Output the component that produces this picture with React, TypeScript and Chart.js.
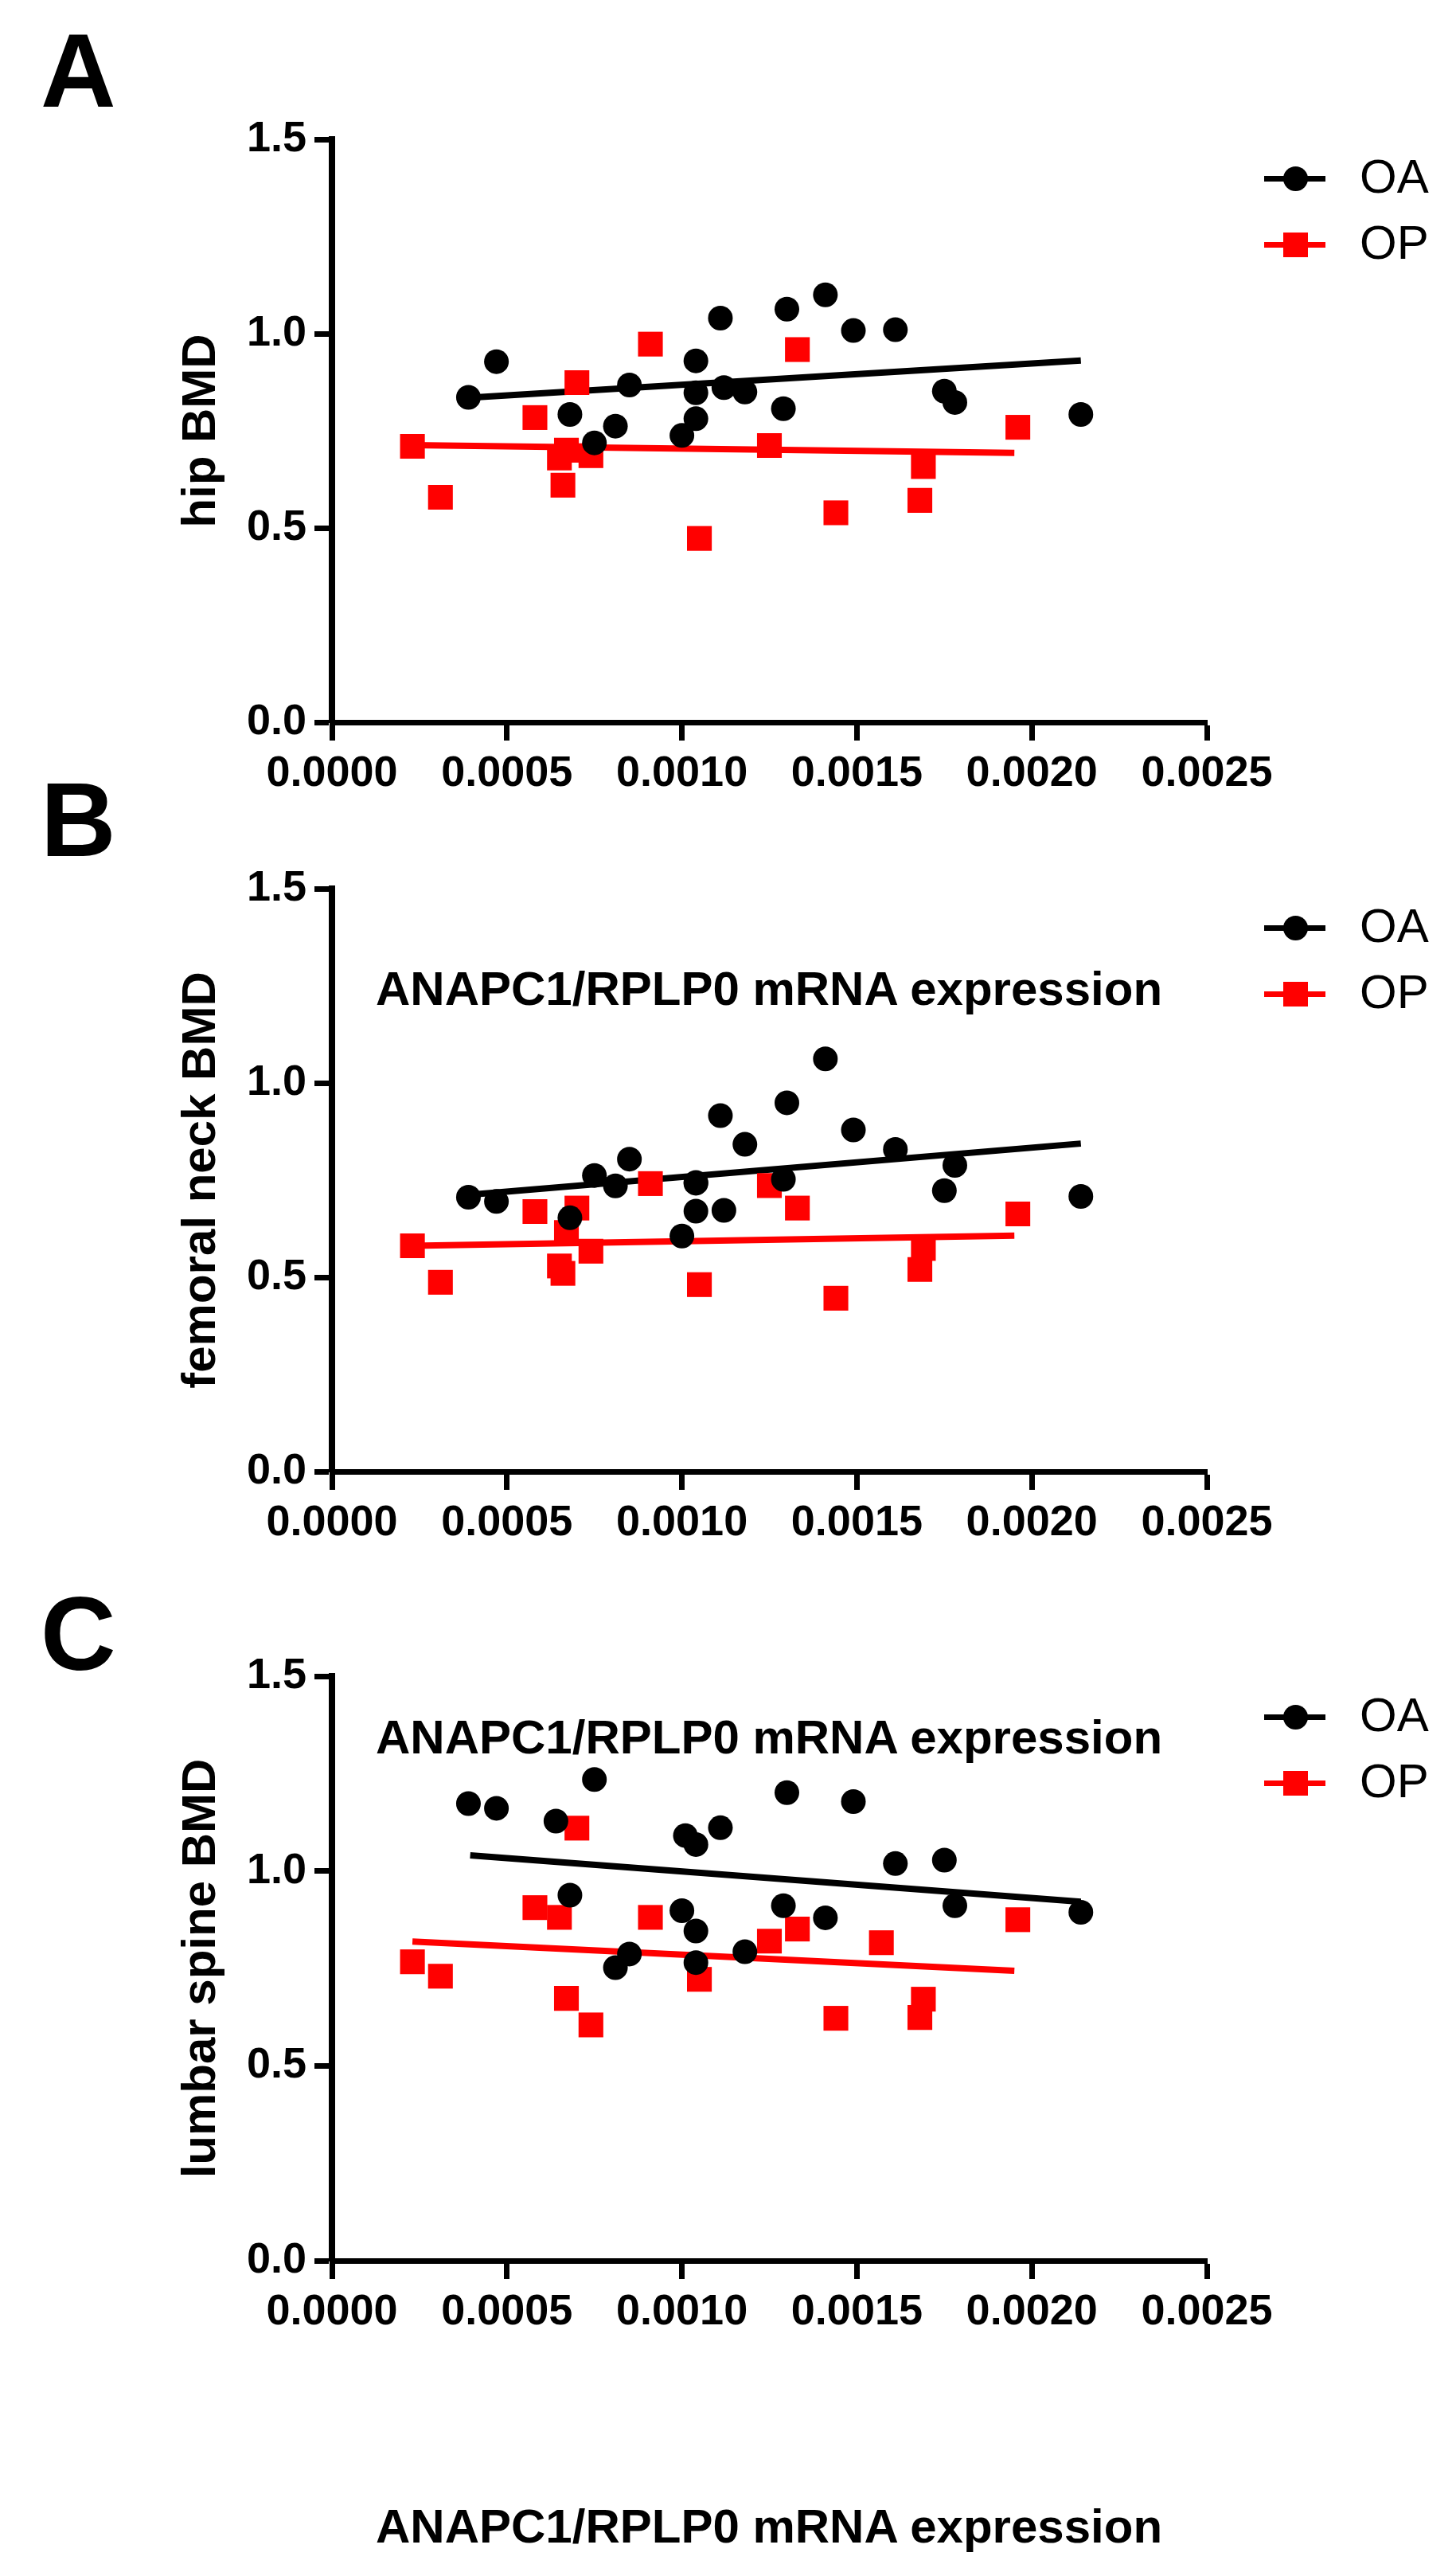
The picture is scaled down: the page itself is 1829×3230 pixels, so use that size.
import { useEffect, useRef } from "react"
import { Chart, registerables } from "chart.js"

Chart.register(...registerables)

const FONT = "'Liberation Sans', Arial, Helvetica, sans-serif"

// shared axes
const xTicks = [0, 0.0005, 0.001, 0.0015, 0.002, 0.0025]
const yTicks = [0, 0.5, 1.0, 1.5]
const xTitle = "ANAPC1/RPLP0 mRNA expression"
const seriesNames = ["OA", "OP"]

// A - hip BMD
const hipOAx = [0.00039, 0.00047, 0.00068, 0.00075, 0.00081, 0.00085, 0.00104, 0.00104, 0.00104, 0.001, 0.00111, 0.00112, 0.00118, 0.0013, 0.00141, 0.00149, 0.00161, 0.00129, 0.00175, 0.00178, 0.00214]
const hipOAy = [0.836, 0.928, 0.792, 0.719, 0.762, 0.868, 0.93, 0.848, 0.781, 0.738, 1.04, 0.861, 0.85, 1.063, 1.1, 1.008, 1.01, 0.807, 0.852, 0.823, 0.792]
const hipOPx = [0.00023, 0.00031, 0.00058, 0.0007, 0.00067, 0.00065, 0.00074, 0.00066, 0.00091, 0.00105, 0.00125, 0.00133, 0.00144, 0.00169, 0.00168, 0.00196]
const hipOPy = [0.71, 0.579, 0.784, 0.874, 0.7, 0.68, 0.686, 0.61, 0.973, 0.473, 0.712, 0.959, 0.539, 0.658, 0.571, 0.759]
const hipOAfitX = [0.00039, 0.00214]
const hipOAfitY = [0.835, 0.931]
const hipOPfitX = [0.00023, 0.00195]
const hipOPfitY = [0.713, 0.693]

// B - femoral neck BMD
const neckOAx = [0.00039, 0.00047, 0.00068, 0.00075, 0.00081, 0.00085, 0.00104, 0.00104, 0.00104, 0.001, 0.00111, 0.00112, 0.00118, 0.0013, 0.00129, 0.00141, 0.00149, 0.00161, 0.00178, 0.00175, 0.00214]
const neckOAy = [0.706, 0.695, 0.653, 0.762, 0.735, 0.804, 0.744, 0.67, 0.742, 0.606, 0.916, 0.672, 0.842, 0.949, 0.752, 1.062, 0.879, 0.829, 0.788, 0.723, 0.708]
const neckOPx = [0.00023, 0.00031, 0.00058, 0.0007, 0.00067, 0.00065, 0.00066, 0.00074, 0.00091, 0.00105, 0.00125, 0.00133, 0.00144, 0.00169, 0.00168, 0.00196]
const neckOPy = [0.581, 0.487, 0.669, 0.678, 0.615, 0.529, 0.51, 0.567, 0.741, 0.481, 0.736, 0.678, 0.446, 0.574, 0.52, 0.663]
const neckOAfitX = [0.00039, 0.00214]
const neckOAfitY = [0.712, 0.844]
const neckOPfitX = [0.00023, 0.00195]
const neckOPfitY = [0.581, 0.607]

// C - lumbar spine BMD
const spineOAx = [0.00039, 0.00047, 0.00064, 0.00075, 0.00068, 0.00081, 0.00085, 0.00101, 0.00104, 0.00111, 0.001, 0.00104, 0.00104, 0.00118, 0.0013, 0.00129, 0.00149, 0.00161, 0.00175, 0.00141, 0.00178, 0.00214]
const spineOAy = [1.173, 1.161, 1.128, 1.235, 0.938, 0.752, 0.787, 1.091, 1.068, 1.111, 0.898, 0.846, 0.765, 0.793, 1.201, 0.911, 1.178, 1.019, 1.028, 0.88, 0.911, 0.894]
const spineOPx = [0.00023, 0.00031, 0.00058, 0.0007, 0.00065, 0.00067, 0.00074, 0.00091, 0.00105, 0.00125, 0.00133, 0.00157, 0.00144, 0.00169, 0.00168, 0.00196]
const spineOPy = [0.767, 0.73, 0.906, 1.11, 0.881, 0.673, 0.605, 0.881, 0.722, 0.82, 0.851, 0.816, 0.622, 0.671, 0.624, 0.875]
const spineOAfitX = [0.000395, 0.00214]
const spineOAfitY = [1.04, 0.921]
const spineOPfitX = [0.00023, 0.00195]
const spineOPfitY = [0.819, 0.744]

const pts = (xs: number[], ys: number[]) => xs.map((x, i) => ({ x, y: ys[i] }))

const panels = [
  { letter: "A", yTitle: "hip BMD", oa: pts(hipOAx, hipOAy), op: pts(hipOPx, hipOPy), oaFit: pts(hipOAfitX, hipOAfitY), opFit: pts(hipOPfitX, hipOPfitY) },
  { letter: "B", yTitle: "femoral neck BMD", oa: pts(neckOAx, neckOAy), op: pts(neckOPx, neckOPy), oaFit: pts(neckOAfitX, neckOAfitY), opFit: pts(neckOPfitX, neckOPfitY) },
  { letter: "C", yTitle: "lumbar spine BMD", oa: pts(spineOAx, spineOAy), op: pts(spineOPx, spineOPy), oaFit: pts(spineOAfitX, spineOAfitY), opFit: pts(spineOPfitX, spineOPfitY) },
]

// page layout (pixels)
const PAGE_W = 1829
const PAGE_H = 3230
const CANVAS_H = 1010
const canvasTops = [0, 941, 1930]
const axisBottoms = [907, 907, 909] // relative to canvas top
const letterBaselines = [134, 1075, 2097]
const legendBaselines = [243, 1184, 2175]
const titleBaselines = [1263, 2203, 3194]

const RED = "#ff0000"
const BLACK = "#000000"

function Txt({ x, baseline, size, weight, children }: any) {
  return (
    <div
      style={{
        position: "absolute",
        left: x,
        top: baseline - 0.8465 * size,
        fontFamily: FONT,
        fontSize: size,
        fontWeight: weight,
        lineHeight: 1,
        whiteSpace: "nowrap",
        color: "#000",
      }}
    >
      {children}
    </div>
  )
}

function LegendRow({ baseline, name, color, square }: any) {
  const cy = baseline - 19
  return (
    <>
      <div style={{ position: "absolute", left: 1588, top: cy - 3.5, width: 77, height: 7, background: color }} />
      <div
        style={{
          position: "absolute",
          left: 1627 - 15.5,
          top: cy - 15.5,
          width: 31,
          height: 31,
          background: color,
          borderRadius: square ? 0 : "50%",
        }}
      />
      <Txt x={1708} baseline={baseline} size={60} weight="normal">
        {name}
      </Txt>
    </>
  )
}

function ScatterPanel({ panel, top, axisBottom }: any) {
  const ref = useRef<HTMLCanvasElement>(null)

  useEffect(() => {
    if (!ref.current) return
    const tickFont = { family: FONT, size: 54, weight: "bold" as const }
    const chart = new Chart(ref.current, {
      type: "scatter",
      data: {
        datasets: [
          {
            label: seriesNames[0],
            data: panel.oa,
            pointStyle: "circle",
            pointRadius: 15.5,
            pointBackgroundColor: BLACK,
            pointBorderWidth: 0,
            borderColor: BLACK,
            backgroundColor: BLACK,
          },
          {
            label: seriesNames[1],
            data: panel.op,
            pointStyle: "rect",
            pointRadius: 22,
            pointBackgroundColor: RED,
            pointBorderWidth: 0,
            borderColor: RED,
            backgroundColor: RED,
          },
          {
            label: seriesNames[1] + " fit",
            data: panel.opFit,
            showLine: true,
            pointRadius: 0,
            borderColor: RED,
            borderWidth: 8,
          },
          {
            label: seriesNames[0] + " fit",
            data: panel.oaFit,
            showLine: true,
            pointRadius: 0,
            borderColor: BLACK,
            borderWidth: 8,
          },
        ],
      },
      options: {
        responsive: false,
        animation: false,
        events: [],
        layout: {
          padding: { left: 0, top: 175, right: PAGE_W - 1516, bottom: CANVAS_H - axisBottom - 100 },
        },
        plugins: { legend: { display: false }, tooltip: { enabled: false } },
        scales: {
          x: {
            type: "linear",
            position: "bottom",
            min: 0,
            max: 0.0025,
            afterBuildTicks: (s: any) => {
              s.ticks = xTicks.map((v) => ({ value: v }))
            },
            afterFit: (s: any) => {
              s.height = 100
            },
            grid: { drawOnChartArea: false, drawTicks: true, tickLength: 23, tickWidth: 7, tickColor: BLACK },
            border: { display: true, width: 7, color: BLACK },
            ticks: {
              padding: 10,
              color: BLACK,
              font: tickFont,
              maxRotation: 0,
              autoSkip: false,
              callback: (v: any) => Number(v).toFixed(4),
            },
          },
          y: {
            type: "linear",
            position: "left",
            min: 0,
            max: 1.5,
            afterBuildTicks: (s: any) => {
              s.ticks = yTicks.map((v) => ({ value: v }))
            },
            afterFit: (s: any) => {
              s.width = 417
            },
            grid: { drawOnChartArea: false, drawTicks: true, tickLength: 22, tickWidth: 7, tickColor: BLACK },
            border: { display: true, width: 8, color: BLACK },
            ticks: {
              padding: 10,
              color: BLACK,
              font: tickFont,
              callback: (v: any) => Number(v).toFixed(1),
            },
            title: {
              display: true,
              text: panel.yTitle,
              color: BLACK,
              font: { family: FONT, size: 60, weight: "bold" },
              padding: { top: 217, bottom: 0 },
            },
          },
        },
      },
    })
    return () => chart.destroy()
  }, [panel, axisBottom])

  return (
    <canvas
      ref={ref}
      width={PAGE_W}
      height={CANVAS_H}
      style={{ position: "absolute", left: 0, top, width: PAGE_W, height: CANVAS_H }}
    />
  )
}

export default function App() {
  return (
    <div style={{ position: "absolute", left: 0, top: 0, width: PAGE_W, height: PAGE_H, background: "#fff", overflow: "hidden" }}>
      {panels.map((p, i) => (
        <div key={p.letter}>
          <ScatterPanel panel={p} top={canvasTops[i]} axisBottom={axisBottoms[i]} />
          <Txt x={51} baseline={letterBaselines[i]} size={131} weight="bold">
            {p.letter}
          </Txt>
          <LegendRow baseline={legendBaselines[i]} name={seriesNames[0]} color={BLACK} square={false} />
          <LegendRow baseline={legendBaselines[i] + 83} name={seriesNames[1]} color={RED} square={true} />
          <Txt x={472} baseline={titleBaselines[i]} size={60} weight="bold">
            {xTitle}
          </Txt>
        </div>
      ))}
    </div>
  )
}
